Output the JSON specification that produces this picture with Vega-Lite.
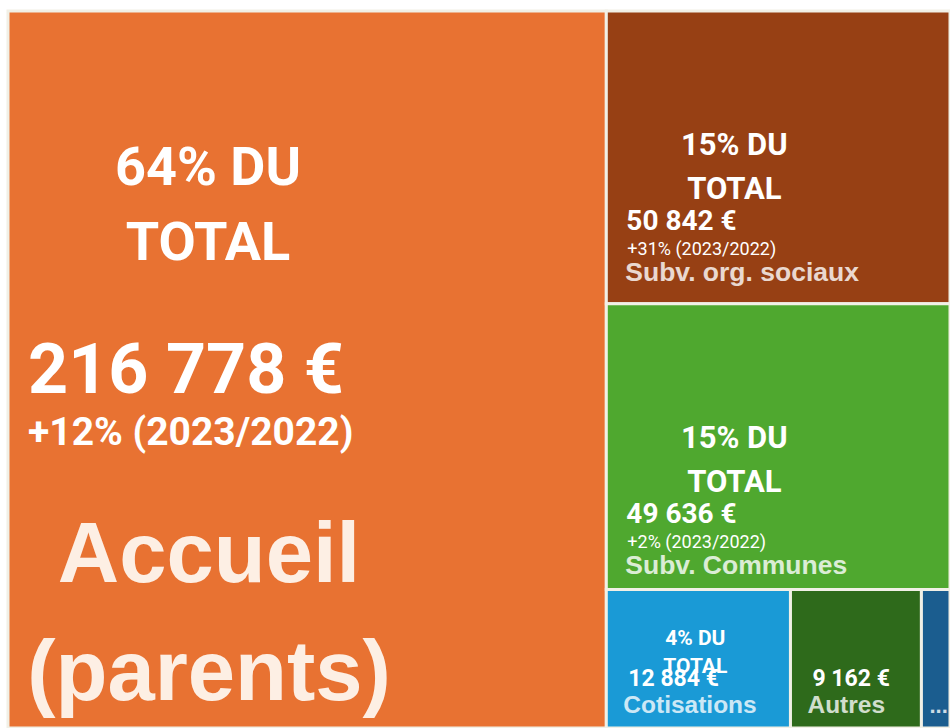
{
  "$schema": "https://vega.github.io/schema/vega-lite/v6.json",
  "width": 942,
  "height": 717,
  "autosize": {"type": "none"},
  "padding": {"left": 8, "top": 11, "right": 0, "bottom": 0},
  "background": "white",
  "config": {
    "view": {"stroke": null},
    "locale": {"number": {"decimal": ",", "thousands": " ", "grouping": [3], "currency": ["", " €"]}}
  },
  "data": {
    "values": [
      {"poste": "Accueil (parents)", "montant": 216778, "part": "64% DU\nTOTAL", "evolution": "+12% (2023/2022)", "bloc": "Accueil", "groupe": "Accueil"},
      {"poste": "Subv. org. sociaux", "montant": 50842, "part": "15% DU\nTOTAL", "evolution": "+31% (2023/2022)", "bloc": "Autres financements", "groupe": "Subv. org. sociaux"},
      {"poste": "Subv. Communes", "montant": 49636, "part": "15% DU\nTOTAL", "evolution": "+2% (2023/2022)", "bloc": "Autres financements", "groupe": "Subv. Communes"},
      {"poste": "Cotisations", "montant": 12884, "part": "4% DU\nTOTAL", "evolution": "", "bloc": "Autres financements", "groupe": "Petits postes"},
      {"poste": "Autres", "montant": 9162, "part": "", "evolution": "", "bloc": "Autres financements", "groupe": "Petits postes"},
      {"poste": "...", "montant": 2000, "part": "", "evolution": "", "bloc": "Autres financements", "groupe": "Petits postes"}
    ]
  },
  "transform": [
    {"stack": "montant", "groupby": [], "offset": "normalize", "sort": [{"field": "montant", "order": "descending"}], "as": ["sx0", "sx1"]},
    {"joinaggregate": [{"op": "min", "field": "sx0", "as": "bx0"}, {"op": "max", "field": "sx1", "as": "bx1"}], "groupby": ["bloc"]},
    {"stack": "montant", "groupby": ["bloc"], "offset": "normalize", "sort": [{"field": "montant", "order": "descending"}], "as": ["sy0", "sy1"]},
    {"joinaggregate": [{"op": "min", "field": "sy0", "as": "gy0"}, {"op": "max", "field": "sy1", "as": "gy1"}], "groupby": ["groupe"]},
    {"stack": "montant", "groupby": ["groupe"], "offset": "normalize", "sort": [{"field": "montant", "order": "descending"}], "as": ["gx0", "gx1"]},
    {"calculate": "datum.bx0 + datum.gx0 * (datum.bx1 - datum.bx0)", "as": "x0"},
    {"calculate": "datum.bx0 + datum.gx1 * (datum.bx1 - datum.bx0)", "as": "x1"}
  ],
  "encoding": {
    "x": {"field": "x0", "type": "quantitative", "axis": null, "scale": {"domain": [0, 1], "nice": false, "zero": false}},
    "y": {"field": "gy0", "type": "quantitative", "axis": null, "scale": {"domain": [0, 1], "nice": false, "zero": false, "reverse": true}}
  },
  "layer": [
    {
      "mark": {"type": "rect", "stroke": "#f1f0e6", "strokeWidth": 3},
      "encoding": {
        "x2": {"field": "x1"},
        "y2": {"field": "gy1"},
        "color": {
          "field": "poste", "type": "nominal", "legend": null,
          "scale": {
            "domain": ["Accueil (parents)", "Subv. org. sociaux", "Subv. Communes", "Cotisations", "Autres", "..."],
            "range": ["#E87232", "#974014", "#4FA82F", "#1A9AD6", "#2E6A1B", "#1B5D8F"]
          }
        }
      }
    },
    {
      "transform": [{"filter": "datum.groupe === 'Accueil'"}],
      "mark": {"type": "text", "align": "center", "baseline": "alphabetic", "dx": 200, "dy": 174, "font": "Roboto", "fontWeight": "bold", "fontSize": 54, "lineHeight": 75, "lineBreak": "\n", "fill": "white"},
      "encoding": {"text": {"field": "part"}}
    },
    {
      "transform": [{"filter": "datum.groupe === 'Accueil'"}],
      "mark": {"type": "text", "align": "left", "baseline": "alphabetic", "dx": 20, "dy": 382, "font": "Roboto", "fontWeight": "bold", "fontSize": 70, "fill": "white"},
      "encoding": {"text": {"field": "montant", "type": "quantitative", "format": "$,.0f"}}
    },
    {
      "transform": [{"filter": "datum.groupe === 'Accueil'"}],
      "mark": {"type": "text", "align": "left", "baseline": "alphabetic", "dx": 20, "dy": 434, "font": "Roboto", "fontWeight": "bold", "fontSize": 39, "fill": "white"},
      "encoding": {"text": {"field": "evolution"}}
    },
    {
      "transform": [{"filter": "datum.groupe === 'Accueil'"}],
      "mark": {"type": "text", "align": "center", "baseline": "alphabetic", "dx": 201, "dy": 571, "font": "Liberation Sans", "fontWeight": "bold", "fontSize": 85, "lineHeight": 118, "lineBreak": " ", "fill": "#fff6ee", "opacity": 0.95},
      "encoding": {"text": {"field": "poste"}}
    },
    {
      "transform": [{"filter": {"field": "poste", "oneOf": ["Subv. org. sociaux", "Subv. Communes"]}}],
      "mark": {"type": "text", "align": "center", "baseline": "alphabetic", "dx": 128, "dy": 144, "font": "Roboto", "fontWeight": "bold", "fontSize": 31, "lineHeight": 44, "lineBreak": "\n", "fill": "white"},
      "encoding": {"text": {"field": "part"}}
    },
    {
      "transform": [{"filter": {"field": "poste", "oneOf": ["Subv. org. sociaux", "Subv. Communes"]}}],
      "mark": {"type": "text", "align": "left", "baseline": "alphabetic", "dx": 20, "dy": 219, "font": "Roboto", "fontWeight": "bold", "fontSize": 28, "fill": "white"},
      "encoding": {"text": {"field": "montant", "type": "quantitative", "format": "$,.0f"}}
    },
    {
      "transform": [{"filter": {"field": "poste", "oneOf": ["Subv. org. sociaux", "Subv. Communes"]}}],
      "mark": {"type": "text", "align": "left", "baseline": "alphabetic", "dx": 21, "dy": 244, "font": "Roboto", "fontSize": 18, "fill": "white"},
      "encoding": {"text": {"field": "evolution"}}
    },
    {
      "transform": [{"filter": {"field": "poste", "oneOf": ["Subv. org. sociaux", "Subv. Communes"]}}],
      "mark": {"type": "text", "align": "left", "baseline": "alphabetic", "dx": 19, "dy": 270, "font": "Liberation Sans", "fontWeight": "bold", "fontSize": 26.5, "fill": "white", "opacity": 0.8},
      "encoding": {"text": {"field": "poste"}}
    },
    {
      "transform": [{"filter": "datum.poste === 'Cotisations'"}],
      "mark": {"type": "text", "align": "center", "baseline": "alphabetic", "dx": 89, "dy": 55, "font": "Roboto", "fontWeight": "bold", "fontSize": 21, "lineHeight": 28, "lineBreak": "\n", "fill": "white"},
      "encoding": {"text": {"field": "part"}}
    },
    {
      "transform": [{"filter": {"field": "poste", "oneOf": ["Cotisations", "Autres"]}}],
      "mark": {"type": "text", "align": "left", "baseline": "alphabetic", "dx": 22, "dy": 96, "font": "Roboto", "fontWeight": "bold", "fontSize": 23, "fill": "white"},
      "encoding": {"text": {"field": "montant", "type": "quantitative", "format": "$,.0f"}}
    },
    {
      "transform": [{"filter": {"field": "poste", "oneOf": ["Cotisations", "Autres"]}}],
      "mark": {"type": "text", "align": "left", "baseline": "alphabetic", "dx": 17, "dy": 123, "font": "Liberation Sans", "fontWeight": "bold", "fontSize": 24.5, "fill": "white", "opacity": 0.78},
      "encoding": {"text": {"field": "poste"}}
    },
    {
      "transform": [{"filter": "datum.poste === '...'"}],
      "mark": {"type": "text", "align": "left", "baseline": "alphabetic", "dx": 8, "dy": 123, "font": "Liberation Sans", "fontWeight": "bold", "fontSize": 22, "fill": "white", "opacity": 0.78},
      "encoding": {"text": {"field": "poste"}}
    }
  ]
}
